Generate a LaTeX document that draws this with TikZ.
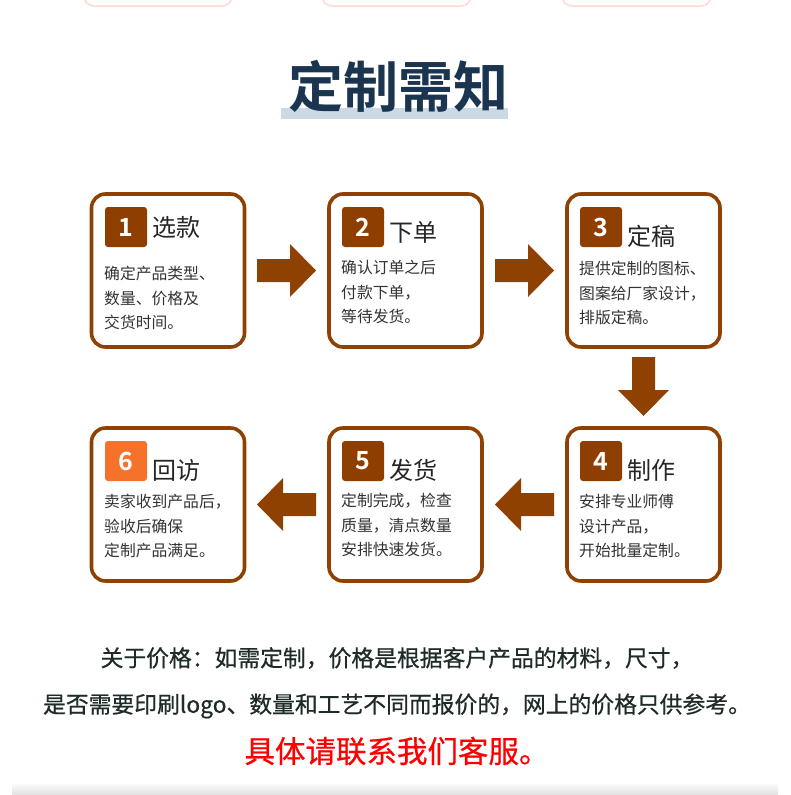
\documentclass[tikz,border=0pt]{standalone}
\usepackage{fontspec}
\setmainfont{Noto Sans CJK SC}
\newfontfamily\cjkbold{Noto Sans CJK SC Bold}
\newfontfamily\cjkmed[FakeBold=0.6]{Noto Sans CJK SC}
\definecolor{brn}{HTML}{8E4100}
\definecolor{badge}{HTML}{8E3F00}
\definecolor{orng}{HTML}{F5722B}
\definecolor{titlec}{HTML}{1B3550}
\definecolor{barc}{HTML}{CBD9E5}
\definecolor{bodyc}{HTML}{333333}
\definecolor{peach}{HTML}{FBDCCD}
\definecolor{notec}{HTML}{1E2B28}
\tikzset{
  stepbox/.style={draw=brn, line width=3.6pt, rounded corners=14pt, fill=white, minimum width=153pt, minimum height=153pt, inner sep=0pt},
  badgebox/.style={fill=badge, rounded corners=3pt, minimum width=42pt, minimum height=40pt, inner sep=0pt, text=white, font=\cjkbold\fontsize{25}{25}\selectfont},
  headtxt/.style={anchor=west, inner sep=0pt, text=black!85, font=\fontsize{24}{24}\selectfont},
  bodytxt/.style={anchor=north west, inner sep=0pt, text=bodyc, align=left, font=\fontsize{15.8}{24.6}\selectfont},
  notetxt/.style={inner sep=0pt, text=notec, font=\cjkmed\fontsize{22.8}{22.8}\selectfont},
  blockarrow/.style={fill=brn},
}
\begin{document}
\begin{tikzpicture}[x=1pt,y=-1pt]
\useasboundingbox (0,0) rectangle (790,795);
\fill[white] (0,0) rectangle (790,795);
% top partial boxes
\foreach \a/\b in {84/232,322/471,562/711}{
  \draw[peach, line width=1.5pt, rounded corners=10pt] (\a,-30) rectangle (\b,6);
}
% title
\fill[barc] (281,108) rectangle (508,119);
\node[inner sep=0pt, text=titlec, font=\cjkbold\fontsize{55}{55}\selectfont] (title) at (398,86) {定制需知};
% boxes
\node[stepbox] (b1) at (168,270.5) {};
\node[stepbox] (b2) at (405.5,270.5) {};
\node[stepbox] (b3) at (643.5,270.5) {};
\node[stepbox] (b4) at (643.5,504.5) {};
\node[stepbox] (b5) at (405.5,504.5) {};
\node[stepbox] (b6) at (168,504.5) {};
% badges
\node[badgebox] (n1) at (126,227) {1};
\node[badgebox] (n2) at (363,227) {2};
\node[badgebox] (n3) at (601,227) {3};
\node[badgebox] (n4) at (601,461) {4};
\node[badgebox] (n5) at (363,461) {5};
\node[badgebox, fill=orng] (n6) at (126,461) {6};
% headings
\node[headtxt] (t1) at (152,227) {选款};
\node[headtxt] (t2) at (389,232) {下单};
\node[headtxt] (t3) at (627,236) {定稿};
\node[headtxt] (t4) at (627,470) {制作};
\node[headtxt] (t5) at (389,470) {发货};
\node[headtxt] (t6) at (152,470) {回访};
% bodies
\node[bodytxt] (d1) at (104,266) {确定产品类型、\\数量、价格及\\交货时间。};
\node[bodytxt] (d2) at (341,260) {确认订单之后\\付款下单，\\等待发货。};
\node[bodytxt] (d3) at (579,261) {提供定制的图标、\\图案给厂家设计，\\排版定稿。};
\node[bodytxt] (d4) at (579,494) {安排专业师傅\\设计产品，\\开始批量定制。};
\node[bodytxt] (d5) at (341,493) {定制完成，检查\\质量，清点数量\\安排快速发货。};
\node[bodytxt] (d6) at (104,494) {卖家收到产品后，\\验收后确保\\定制产品满足。};
% block arrows
\fill[blockarrow] (257,259) -- (290,259) -- (290,244) -- (316,270.5) -- (290,297) -- (290,282) -- (257,282) -- cycle;
\fill[blockarrow] (495,259) -- (528,259) -- (528,244) -- (554,270.5) -- (528,297) -- (528,282) -- (495,282) -- cycle;
\fill[blockarrow] (632,357) -- (632,390) -- (618,390) -- (643.5,416) -- (669,390) -- (655,390) -- (655,357) -- cycle;
\fill[blockarrow] (554,493) -- (521,493) -- (521,478) -- (495,504.5) -- (521,531) -- (521,516) -- (554,516) -- cycle;
\fill[blockarrow] (316,493) -- (283,493) -- (283,478) -- (257,504.5) -- (283,531) -- (283,516) -- (316,516) -- cycle;
% notes
\node[notetxt] (l1) at (397,658) {关于价格：如需定制，价格是根据客户产品的材料，尺寸，};
\node[notetxt] (l2) at (397,706) {是否需要印刷logo、数量和工艺不同而报价的，网上的价格只供参考。};
\node[inner sep=0pt, text=red, font=\cjkmed\fontsize{30.5}{30.5}\selectfont] (l3) at (397,751) {具体请联系我们客服。};
% bottom shadow
\shade[top color=white, bottom color=black!12] (12,782) rectangle (778,795);
\end{tikzpicture}
\end{document}
